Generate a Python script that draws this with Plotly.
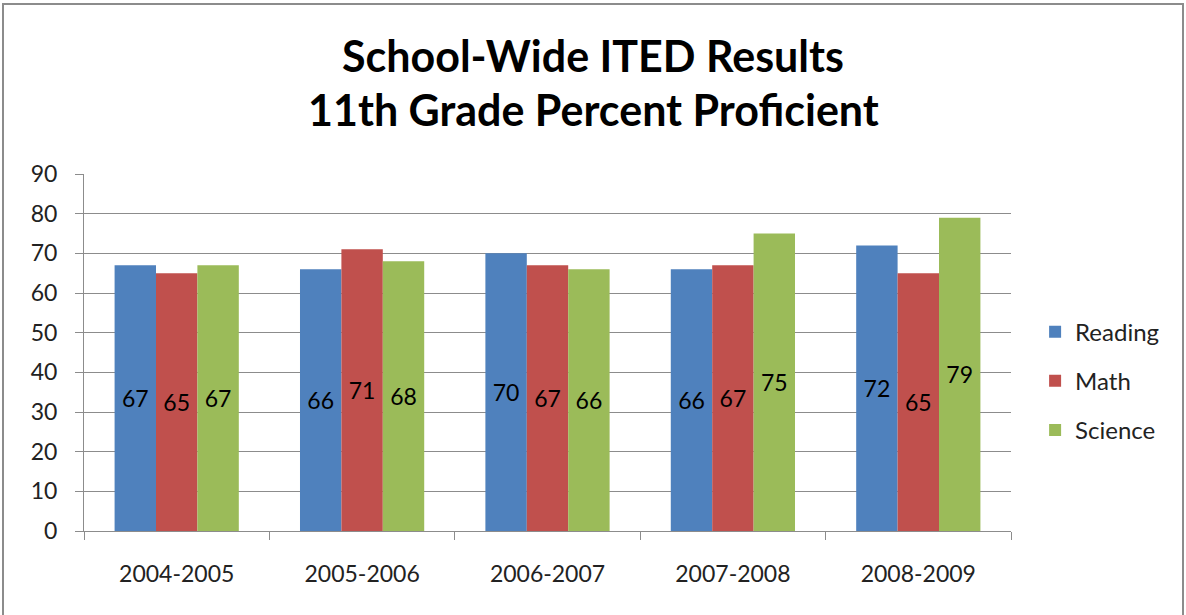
import plotly.graph_objects as go

categories = ["2004-2005", "2005-2006", "2006-2007", "2007-2008", "2008-2009"]
reading = [67, 66, 70, 66, 72]
math = [65, 71, 67, 67, 65]
science = [67, 68, 66, 75, 79]
series_names = ["Reading", "Math", "Science"]
colors = ["#4F81BD", "#C0504D", "#9BBB59"]
y_ticks = [0, 10, 20, 30, 40, 50, 60, 70, 80, 90]
title_lines = ["School-Wide ITED Results", "11th Grade Percent Proficient"]

FONT = "Lato, Open Sans, sans-serif"
W, H = 1186, 615
L, R, T, B = 84, 175, 174, 84
PW, PH = W - L - R, H - T - B

fig = go.Figure()
for i, (name, vals) in enumerate(zip(series_names, [reading, math, science])):
    fig.add_trace(go.Bar(
        x=categories, y=vals, name=name,
        marker=dict(color=colors[i], line=dict(width=0)),
        text=[str(v) for v in vals],
        textposition="inside", insidetextanchor="middle",
        textfont=dict(family=FONT, size=23, color="#000000"),
        legendgroup=name,
    ))

fig.update_layout(
    width=W, height=H,
    barmode="group", bargap=0.33, bargroupgap=0,
    plot_bgcolor="white", paper_bgcolor="white",
    margin=dict(l=L, r=R, t=T, b=B, autoexpand=False),
    font=dict(family=FONT, color="#222222"),
    legend=dict(
        x=1.026, xanchor="left", y=0.42, yanchor="middle",
        font=dict(family=FONT, size=24, color="#222222"),
        traceorder="grouped", tracegroupgap=15,
        itemwidth=30,
    ),
    uniformtext=dict(minsize=10, mode="show"),
    showlegend=True,
)
# title as two annotation lines
for txt, ypx in zip(title_lines, [55, 110]):
    fig.add_annotation(
        text="<b>" + txt + "</b>", xref="paper", yref="paper",
        x=(W / 2 - L) / PW, y=(H - B - ypx) / PH, xanchor="center", yanchor="middle",
        showarrow=False, font=dict(family=FONT, size=43, color="#000000"),
    )

fig.update_yaxes(
    range=[0, 90], tickvals=y_ticks, showgrid=True, gridcolor="#8c8c8c", gridwidth=1,
    showline=True, linecolor="#8c8c8c", linewidth=1,
    ticks="outside", ticklen=8, tickcolor="#8c8c8c", ticklabelstandoff=13,
    tickfont=dict(family=FONT, size=23, color="#222222"), zeroline=False,
)
fig.update_xaxes(
    showline=True, linecolor="#8c8c8c", linewidth=1,
    ticks="outside", ticklen=8, tickcolor="#8c8c8c", tickson="boundaries",
    ticklabelstandoff=22,
    tickfont=dict(family=FONT, size=23, color="#222222"),
)

# outer chart frame
fig.add_shape(type="rect", xref="paper", yref="paper",
              x0=(3 - L) / PW, x1=(1183 - L) / PW, y0=-0.5, y1=(H - B - 4) / PH,
              line=dict(color="#8c8c8c", width=2), fillcolor="rgba(0,0,0,0)", layer="below")

fig.write_html("out.html", config={"displayModeBar": False},
               post_script="document.body.style.margin='0';")
